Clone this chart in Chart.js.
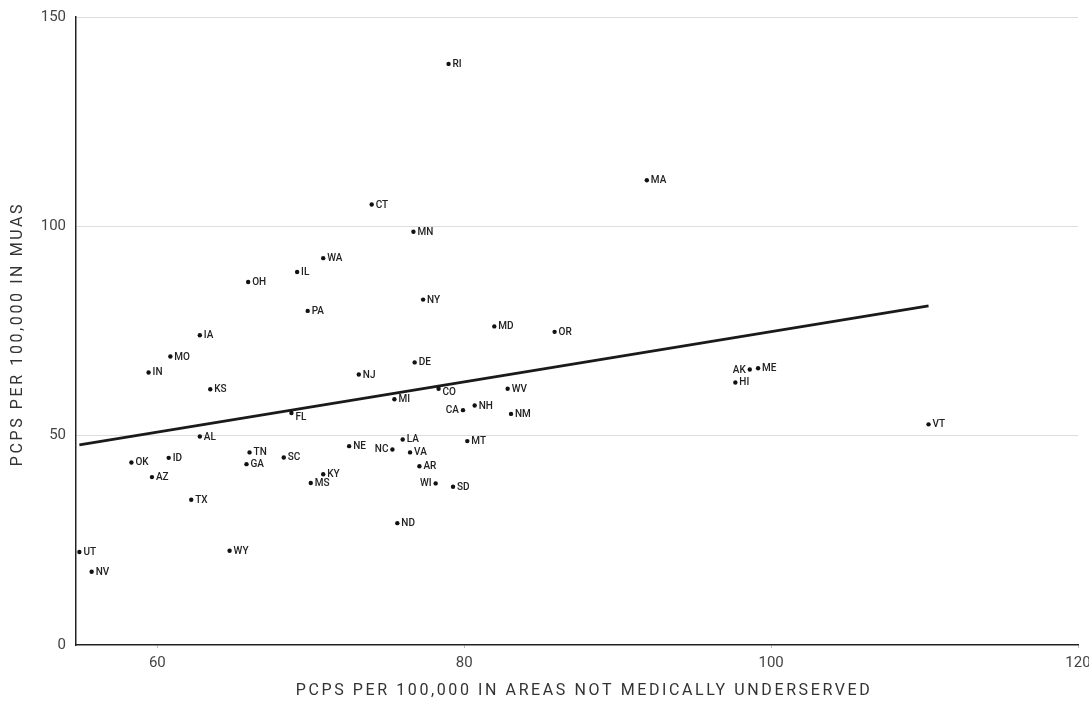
<!DOCTYPE html>
<html>
<head>
<meta charset="utf-8">
<script src="https://cdn.jsdelivr.net/npm/chart.js@4"></script>
<style>
  html, body { margin: 0; padding: 0; background: #fff; }
  #wrap { width: 1089px; height: 702px; }
</style>
</head>
<body>
<div id="wrap"><canvas id="chart" width="1089" height="702"></canvas></div>
<script>
// states, x = PCPs per 100,000 outside MUAs, y = PCPs per 100,000 in MUAs
const states = ['RI','MA','CT','MN','WA','IL','OH','NY','PA','MD','OR','IA','MO','DE','IN','NJ','AK','ME','HI','KS','CO','WV','MI','NH','CA','FL','NM','VT','AL','LA','MT','NE','NC','TN','VA','SC','ID','OK','GA','AR','KY','AZ','MS','WI','SD','TX','ND','WY','UT','NV'];
const xVals = [78.98,91.9,73.97,76.69,70.81,69.11,65.92,77.32,69.8,81.96,85.89,62.77,60.85,76.77,59.43,73.13,98.61,99.15,97.67,63.45,78.33,82.83,75.45,80.68,79.92,68.74,83.05,110.26,62.77,75.99,80.2,72.5,75.32,66.01,76.47,68.24,60.74,58.31,65.81,77.08,70.81,59.65,70.0,78.14,79.27,62.21,75.64,64.71,54.92,55.72];
const yVals = [138.8,111.0,105.2,98.7,92.4,89.1,86.7,82.5,79.8,76.1,74.8,74.0,68.9,67.5,65.1,64.6,65.8,66.1,62.7,61.1,61.2,61.2,58.7,57.2,56.1,55.4,55.2,52.7,49.8,49.1,48.7,47.5,46.7,46.0,46.0,44.8,44.7,43.6,43.2,42.7,40.8,40.1,38.7,38.6,37.8,34.7,29.1,22.5,22.2,17.5];

// fitted trend line endpoints
const trendX = [54.92, 110.26];
const trendY = [47.8, 81.0];

const xTicks = [60, 80, 100, 120];
const yTicks = [0, 50, 100, 150];

const xTitle = 'PCPS PER 100,000 IN AREAS NOT MEDICALLY UNDERSERVED';
const yTitle = 'PCPS PER 100,000 IN MUAS';

// labels drawn on the left side of the dot, and a few nudged down
const leftLabels = ['CA', 'NC', 'WI', 'AK'];
const nudgeDown = { CO: 3, FL: 4 };

const FONT = 'Roboto, "Noto Sans", sans-serif';

const stateLabels = {
    id: 'stateLabels',
    afterDatasetsDraw(chart) {
        const ctx = chart.ctx;
        const meta = chart.getDatasetMeta(0);
        ctx.save();
        ctx.font = '500 10px ' + FONT;
        ctx.fillStyle = '#222';
        ctx.textBaseline = 'middle';
        meta.data.forEach((pt, i) => {
            const st = states[i];
            const left = leftLabels.includes(st);
            ctx.textAlign = left ? 'right' : 'left';
            const dx = left ? -4 : 4;
            const dy = nudgeDown[st] || 0;
            ctx.fillText(st, pt.x + dx, pt.y + dy + 0.5);
        });
        ctx.restore();
    }
};

const axisTitles = {
    id: 'axisTitles',
    afterDraw(chart) {
        const ctx = chart.ctx;
        const area = chart.chartArea;
        ctx.save();
        ctx.font = '16px ' + FONT;
        ctx.fillStyle = '#333';
        ctx.textAlign = 'center';
        ctx.textBaseline = 'middle';
        ctx.letterSpacing = '2.6px';
        ctx.fillText(xTitle, (area.left + area.right) / 2 + 7, 691);
        ctx.translate(18, (area.top + area.bottom) / 2 + 3);
        ctx.rotate(-Math.PI / 2);
        ctx.fillText(yTitle, 0, 0);
        ctx.restore();
    }
};

const points = xVals.map((x, i) => ({ x: x, y: yVals[i] }));
const trend = trendX.map((x, i) => ({ x: x, y: trendY[i] }));

new Chart(document.getElementById('chart').getContext('2d'), {
    type: 'scatter',
    data: {
        datasets: [{
            label: 'States',
            data: points,
            backgroundColor: '#111',
            borderColor: '#111',
            pointRadius: 2.2,
            pointBorderWidth: 0
        }, {
            type: 'line',
            label: 'Trend',
            data: trend,
            borderColor: '#1a1a1a',
            borderWidth: 2.6,
            pointRadius: 0,
            fill: false
        }]
    },
    options: {
        responsive: false,
        animation: false,
        layout: { padding: { top: 17, right: 11, left: 0, bottom: 0 } },
        plugins: {
            legend: { display: false },
            tooltip: { enabled: false }
        },
        scales: {
            x: {
                type: 'linear',
                min: 54.7,
                max: 120,
                afterBuildTicks: s => { s.ticks = xTicks.map(v => ({ value: v })); },
                afterFit: s => { s.height = 57; s.paddingLeft = 0; s.paddingRight = 0; },
                grid: { drawOnChartArea: false, drawTicks: true, tickLength: 3, color: '#bbb' },
                border: { color: '#222', width: 1.5 },
                ticks: { font: { family: FONT, size: 15 }, color: '#444', padding: 6 }
            },
            y: {
                min: 0,
                max: 150,
                afterBuildTicks: s => { s.ticks = yTicks.map(v => ({ value: v })); },
                afterFit: s => { s.width = 76; s.paddingTop = 0; s.paddingBottom = 0; },
                grid: { drawTicks: false, color: ctx => ctx.tick.value === 0 ? 'rgba(0,0,0,0)' : '#ddd', lineWidth: 1 },
                border: { color: '#222', width: 1.5 },
                ticks: { font: { family: FONT, size: 15 }, color: '#444', padding: 10 }
            }
        }
    },
    plugins: [stateLabels, axisTitles]
});
</script>
</body>
</html>
